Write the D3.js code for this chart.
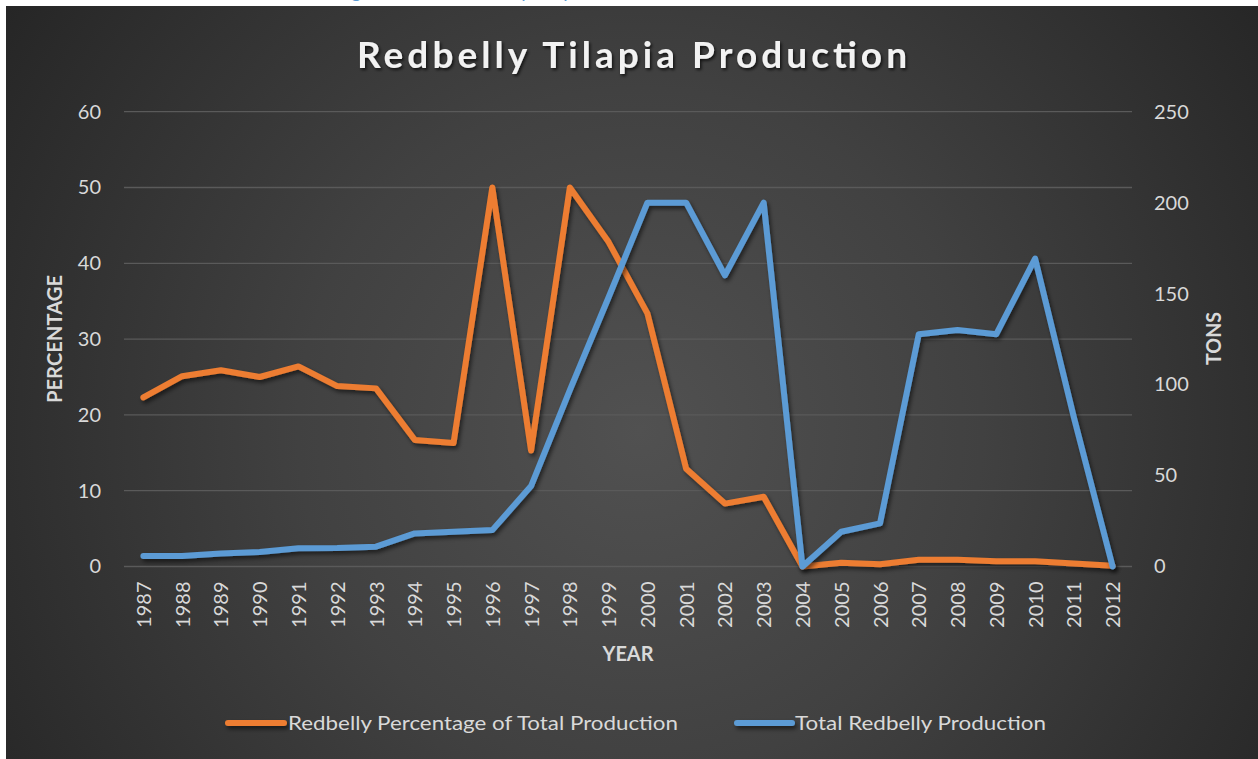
<!DOCTYPE html>
<html>
<head>
<meta charset="utf-8">
<script src="https://cdn.jsdelivr.net/npm/d3@7/dist/d3.min.js"></script>
<style>
  html, body { margin: 0; padding: 0; background: #ffffff; }
  svg { display: block; }
  text { font-family: Lato, "Open Sans", sans-serif; }
</style>
</head>
<body>
<svg id="chart" width="1258" height="759"></svg>
<script>
const years = ["1987","1988","1989","1990","1991","1992","1993","1994","1995","1996","1997","1998","1999","2000","2001","2002","2003","2004","2005","2006","2007","2008","2009","2010","2011","2012"];
const percentage = [22.3,25.1,25.9,25.0,26.4,23.8,23.5,16.7,16.3,50.0,15.3,50.0,42.8,33.4,12.9,8.3,9.2,0.0,0.5,0.3,0.9,0.9,0.7,0.7,0.4,0.1];
const tons = [5.8,5.8,7.2,8.0,10.0,10.2,10.9,18.2,19.1,20.0,44.2,97,148,200,200,160,200,0,19.1,23.7,127.7,130,127.7,169.3,82,0];
const leftTicks = [0,10,20,30,40,50,60];
const rightTicks = [0,50,100,150,200,250];
const seriesNames = ["Redbelly Percentage of Total Production","Total Redbelly Production"];
const seriesColors = ["#ED7D31","#5B9BD5"];
const chartTitle = "Redbelly Tilapia Production";
const captionText = "Figure 7: Total Redbelly Tilapia Production";

const svg = d3.select("#chart");
const defs = svg.append("defs");

const grad = defs.append("radialGradient").attr("id","bg")
  .attr("gradientUnits","userSpaceOnUse")
  .attr("cx",640).attr("cy",430).attr("r",760);
grad.append("stop").attr("offset","0").attr("stop-color","#515151");
grad.append("stop").attr("offset","0.45").attr("stop-color","#414141");
grad.append("stop").attr("offset","1").attr("stop-color","#262626");

const shadow = defs.append("filter").attr("id","shadow")
  .attr("filterUnits","userSpaceOnUse")
  .attr("x",0).attr("y",0).attr("width",1258).attr("height",759);
shadow.append("feDropShadow").attr("dx",2).attr("dy",3).attr("stdDeviation",2)
  .attr("flood-color","#000").attr("flood-opacity",0.55);

const tshadow = defs.append("filter").attr("id","tshadow")
  .attr("x","-5%").attr("y","-20%").attr("width","110%").attr("height","150%");
tshadow.append("feDropShadow").attr("dx",1.5).attr("dy",2).attr("stdDeviation",1.5)
  .attr("flood-color","#000").attr("flood-opacity",0.7);

// caption clipped at top (as in the reference)
svg.append("text")
  .attr("x",336).attr("y",-2)
  .attr("font-size",19).attr("fill","#5B9BD5")
  .text(captionText);

// panel
svg.append("rect").attr("x",6).attr("y",6).attr("width",1252).attr("height",753)
  .attr("fill","url(#bg)");

const x = d3.scalePoint().domain(years).range([124,1132]).padding(0.5);
const yL = d3.scaleLinear().domain([0,60]).range([566.5,111.7]);
const yR = d3.scaleLinear().domain([0,250]).range([566.5,111.7]);

// gridlines
svg.append("g").selectAll("line").data(leftTicks).join("line")
  .attr("x1",124).attr("x2",1132)
  .attr("y1",d=>yL(d)).attr("y2",d=>yL(d))
  .attr("stroke","#5a5a5a").attr("stroke-width",1.3);

// axes
const axL = svg.append("g").attr("transform","translate(124,0)")
  .call(d3.axisLeft(yL).tickValues(leftTicks).tickSize(0).tickPadding(23));
const axR = svg.append("g").attr("transform","translate(1132,0)")
  .call(d3.axisRight(yR).tickValues(rightTicks).tickSize(0).tickPadding(22));
const axB = svg.append("g").attr("transform","translate(0,566.5)")
  .call(d3.axisBottom(x).tickSize(0));
[axL,axR,axB].forEach(g=>{
  g.select(".domain").remove();
  g.selectAll("text").attr("font-size",20).attr("fill","#d9d9d9")
    .attr("font-family","Lato, 'Open Sans', sans-serif");
});
axB.selectAll("text")
  .attr("transform","rotate(-90)")
  .attr("text-anchor","end")
  .attr("x",-15).attr("y",0).attr("dy","0.35em");

// lines
const lineL = d3.line().x((d,i)=>x(years[i])).y(d=>yL(d));
const lineR = d3.line().x((d,i)=>x(years[i])).y(d=>yR(d));
svg.append("path").datum(percentage).attr("d",lineL)
  .attr("fill","none").attr("stroke",seriesColors[0]).attr("stroke-width",6)
  .attr("stroke-linejoin","round").attr("stroke-linecap","round")
  .attr("filter","url(#shadow)");
svg.append("path").datum(tons).attr("d",lineR)
  .attr("fill","none").attr("stroke",seriesColors[1]).attr("stroke-width",6)
  .attr("stroke-linejoin","round").attr("stroke-linecap","round")
  .attr("filter","url(#shadow)");

// title
svg.append("text").attr("x",632).attr("y",68).attr("text-anchor","middle")
  .attr("font-size",37).attr("font-weight","bold").attr("fill","#f2f2f2")
  .attr("textLength",550).attr("lengthAdjust","spacing")
  .attr("filter","url(#tshadow)")
  .text(chartTitle);

// axis titles
svg.append("text").attr("transform","translate(62,339) rotate(-90)")
  .attr("text-anchor","middle").attr("font-size",20).attr("font-weight","bold")
  .attr("fill","#d9d9d9").attr("textLength",128).attr("lengthAdjust","spacingAndGlyphs")
  .text("PERCENTAGE");
svg.append("text").attr("transform","translate(1221,338.5) rotate(-90)")
  .attr("text-anchor","middle").attr("font-size",20).attr("font-weight","bold")
  .attr("fill","#d9d9d9").attr("textLength",53).attr("lengthAdjust","spacingAndGlyphs")
  .text("TONS");
svg.append("text").attr("x",628).attr("y",661).attr("text-anchor","middle")
  .attr("font-size",20).attr("font-weight","bold").attr("fill","#d9d9d9")
  .attr("textLength",51).attr("lengthAdjust","spacingAndGlyphs")
  .text("YEAR");

// legend
const legendItems = [
  {x1:228,x2:284,tx:288,tl:390},
  {x1:737,x2:792,tx:795,tl:251}
];
const lg = svg.append("g");
legendItems.forEach((it,i)=>{
  lg.append("rect").attr("x",it.x1-3).attr("y",720).attr("width",it.x2-it.x1+6).attr("height",6)
    .attr("rx",3).attr("ry",3)
    .attr("fill",seriesColors[i])
    .attr("filter","url(#shadow)");
  lg.append("text").attr("x",it.tx).attr("y",730).attr("font-size",20)
    .attr("fill","#d9d9d9").attr("textLength",it.tl).attr("lengthAdjust","spacingAndGlyphs")
    .text(seriesNames[i]);
});
</script>
</body>
</html>
